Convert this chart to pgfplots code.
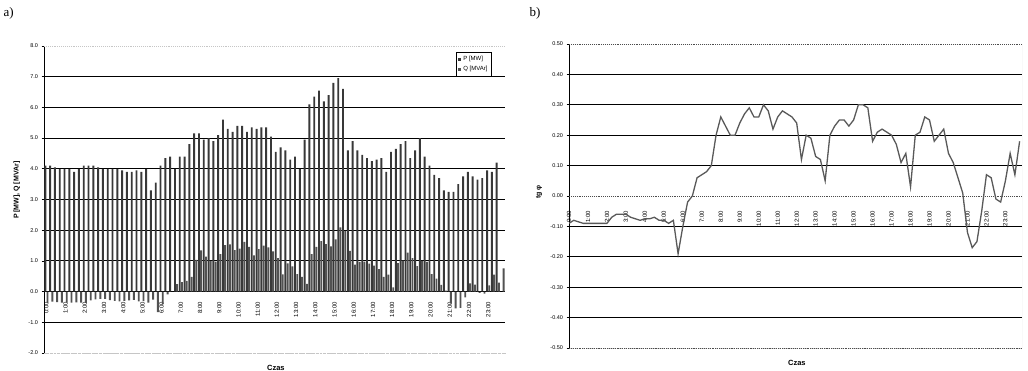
\documentclass[border=0pt]{standalone}
\usepackage{fontspec}
\setmainfont{Liberation Sans}
\newfontfamily\panelfont{Liberation Serif}
\usepackage{pgfplots}
\usepackage{pgfplotstable}
\pgfplotsset{compat=1.18}

\pgfplotstableread{
idx P Q T
0 4.10 -0.37 -0.09
1 4.10 -0.33 -0.08
2 4.05 -0.34 -0.085
3 4.00 -0.36 -0.09
4 4.00 -0.36 -0.09
5 4.00 -0.36 -0.09
6 3.90 -0.35 -0.09
7 4.00 -0.36 -0.09
8 4.10 -0.37 -0.09
9 4.10 -0.29 -0.07
10 4.10 -0.25 -0.06
11 4.05 -0.24 -0.06
12 4.00 -0.24 -0.06
13 4.00 -0.28 -0.07
14 4.00 -0.30 -0.075
15 4.00 -0.32 -0.08
16 3.95 -0.30 -0.075
17 3.90 -0.29 -0.075
18 3.90 -0.27 -0.07
19 3.95 -0.32 -0.08
20 3.90 -0.31 -0.08
21 4.00 -0.36 -0.09
22 3.30 -0.26 -0.08
23 3.55 -0.67 -0.19
24 4.10 -0.41 -0.10
25 4.35 -0.09 -0.02
26 4.40 0.00 0.00
27 4.00 0.24 0.06
28 4.40 0.31 0.07
29 4.40 0.35 0.08
30 4.80 0.48 0.10
31 5.15 1.03 0.20
32 5.15 1.34 0.26
33 4.95 1.14 0.23
34 5.00 1.00 0.20
35 4.90 0.98 0.20
36 5.10 1.22 0.24
37 5.60 1.51 0.27
38 5.30 1.54 0.29
39 5.20 1.35 0.26
40 5.40 1.40 0.26
41 5.40 1.62 0.30
42 5.20 1.46 0.28
43 5.35 1.18 0.22
44 5.30 1.38 0.26
45 5.35 1.50 0.28
46 5.35 1.44 0.27
47 5.05 1.31 0.26
48 4.55 1.09 0.24
49 4.70 0.56 0.12
50 4.60 0.92 0.20
51 4.30 0.82 0.19
52 4.40 0.57 0.13
53 4.00 0.48 0.12
54 4.95 0.25 0.05
55 6.10 1.22 0.20
56 6.35 1.46 0.23
57 6.55 1.64 0.25
58 6.20 1.55 0.25
59 6.40 1.47 0.23
60 6.80 1.70 0.25
61 6.95 2.09 0.30
62 6.60 1.98 0.30
63 4.60 1.33 0.29
64 4.90 0.88 0.18
65 4.60 0.97 0.21
66 4.45 0.98 0.22
67 4.35 0.91 0.21
68 4.25 0.85 0.20
69 4.30 0.73 0.17
70 4.35 0.48 0.11
71 3.90 0.55 0.14
72 4.55 0.14 0.03
73 4.65 0.93 0.20
74 4.80 1.01 0.21
75 4.90 1.27 0.26
76 4.35 1.09 0.25
77 4.60 0.83 0.18
78 5.00 1.00 0.20
79 4.40 0.97 0.22
80 4.10 0.57 0.14
81 3.80 0.42 0.11
82 3.70 0.22 0.06
83 3.30 0.03 0.01
84 3.25 -0.39 -0.12
85 3.25 -0.55 -0.17
86 3.50 -0.53 -0.15
87 3.75 -0.19 -0.05
88 3.90 0.27 0.07
89 3.75 0.23 0.06
90 3.65 -0.04 -0.01
91 3.70 -0.07 -0.02
92 3.95 0.20 0.05
93 3.90 0.55 0.14
94 4.20 0.29 0.07
95 nan 0.76 0.18
}\datatable

\newcommand{\hh}[1]{\mbox{#1:00}}

\pgfplotsset{
  commonstyle/.style={
    scale only axis,
    anchor=south west,
    axis y line*=left, axis x line*=bottom,
    x axis line style={draw=gray!45, densely dotted, -},
    y axis line style={black, line width=0.8pt, -},
    ymajorgrids,
    major grid style={black, line width=0.9pt},
    tick align=outside,
    major tick length=2.5pt,
    ytick style={black, line width=0.6pt},
    xtick style={draw=none},
    xtick={0,4,...,92},
    xticklabels={\hh{0},\hh{1},\hh{2},\hh{3},\hh{4},\hh{5},\hh{6},\hh{7},\hh{8},\hh{9},\hh{10},\hh{11},\hh{12},\hh{13},\hh{14},\hh{15},\hh{16},\hh{17},\hh{18},\hh{19},\hh{20},\hh{21},\hh{22},\hh{23}},
    xticklabel style={rotate=90, anchor=east, font=\fontsize{6}{6}\selectfont},
    yticklabel style={font=\fontsize{5.5}{6}\selectfont},
    /pgf/number format/assume math mode=true,
    xlabel={\bfseries Czas},
    xlabel style={font=\fontsize{7.5}{8}\selectfont, at={(axis description cs:0.503,-0.049)}, anchor=center},
    ylabel style={font=\fontsize{7}{8}\selectfont, anchor=center},
  }
}

\begin{document}
\begin{tikzpicture}[x=1pt,y=1pt]
\useasboundingbox (0,0) rectangle (1028,371);
\node[anchor=west, font=\panelfont\fontsize{13}{14}\selectfont] at (0,358) {a)};
\node[anchor=west, font=\panelfont\fontsize{13}{14}\selectfont] at (526,358) {b)};

% ---- a) ----
\begin{axis}[commonstyle,
  at={(44pt,18pt)}, width=461pt, height=307pt,
  xmin=-0.5, xmax=95.5, ymin=-2, ymax=8,
  ybar=0.3pt, bar width=1.9pt,
  ytick={-1,0,...,7},
  extra y ticks={-2,8},
  extra y tick style={major grid style={gray!45, densely dotted, line width=0.6pt}},
  /pgf/number format/.cd, fixed, fixed zerofill, precision=1, /pgfplots/.cd,
  xticklabel shift=-57pt,
  ylabel={\bfseries P [MW], Q [MVAr]},
  ylabel style={at={(axis description cs:-0.059,0.53)}},
  legend style={at={(0.972,0.98)}, anchor=north east, draw=black, line width=0.9pt,
    font=\fontsize{6}{7}\selectfont, inner sep=2pt,
    legend cell align=left},
  legend image code/.code={\fill[#1] (0pt,-1.6pt) rectangle (3.2pt,1.6pt);},
]
\addplot[fill=black!78, draw=none] table[x=idx, y=P] {\datatable};
\addplot[fill=black!68, draw=none] table[x=idx, y=Q] {\datatable};
\legend{P [MW], Q [MVAr]}
\draw[gray!40] (rel axis cs:1,0) -- (rel axis cs:1,1);
\end{axis}

% ---- b) ----
\begin{axis}[commonstyle,
  at={(569pt,23pt)}, width=453pt, height=304pt,
  xmin=0, xmax=95.5, ymin=-0.5, ymax=0.5,
  ytick={-0.4,-0.3,-0.2,-0.1,0.1,0.2,0.3,0.4},
  extra y ticks={-0.5,0,0.5},
  extra y tick style={major grid style={black!70, densely dotted, line width=0.8pt}},
  /pgf/number format/.cd, fixed, fixed zerofill, precision=2, /pgfplots/.cd,
  xticklabel shift=-143pt,
  ylabel={\bfseries tg φ},
  ylabel style={at={(axis description cs:-0.066,0.513)}},
]
\addplot[black!65, line width=1.3pt, mark=none] table[x=idx, y=T] {\datatable};
\draw[gray!40] (rel axis cs:1,0) -- (rel axis cs:1,1);
\end{axis}
\end{tikzpicture}
\end{document}
